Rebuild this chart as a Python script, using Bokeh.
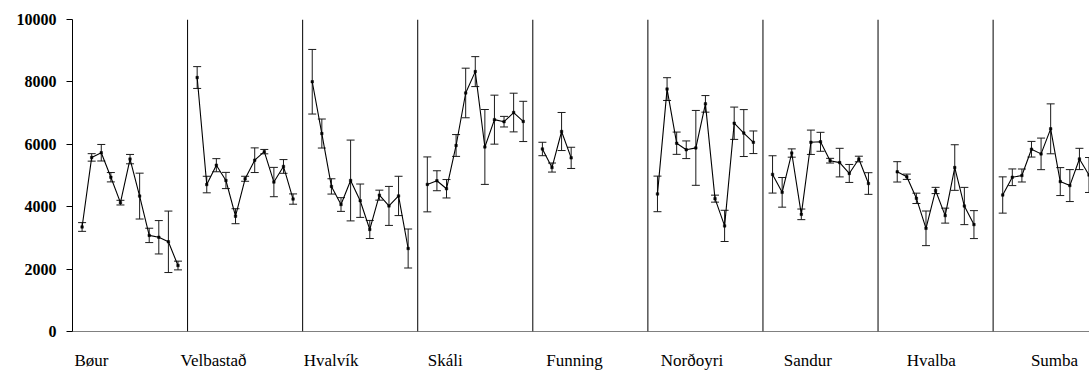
from bokeh.plotting import figure
from bokeh.models import (ColumnDataSource, Range1d, FixedTicker, Span, Whisker, TeeHead)
from bokeh.embed import file_html
from bokeh.resources import INLINE

# ---- data ----
villages = ["Bøur", "Velbastað", "Hvalvík", "Skáli", "Funning",
            "Norðoyri", "Sandur", "Hvalba", "Sumba"]
slots_per_group = 12

# first sample slot within each village block
first_slot = [1, 1, 1, 1, 1, 1, 1, 2, 1]

means = {
    "Bøur":      [3350, 5580, 5730, 4945, 4130, 5525, 4340, 3080, 3020, 2875, 2115],
    "Velbastað": [8140, 4710, 5330, 4840, 3695, 4895, 5490, 5765, 4790, 5290, 4245],
    "Hvalvík":   [8005, 6345, 4650, 4070, 4840, 4192, 3270, 4370, 4025, 4345, 2660],
    "Skáli":     [4715, 4832, 4575, 5962, 7645, 8330, 5915, 6790, 6725, 7018, 6733],
    "Funning":   [5850, 5255, 6410, 5565],
    "Norðoyri":  [4410, 7770, 6035, 5825, 5885, 7296, 4258, 3385, 6675, 6360, 6065],
    "Sandur":    [5035, 4460, 5720, 3755, 6065, 6080, 5475, 5413, 5066, 5528, 4743],
    "Hvalba":    [5117, 4960, 4268, 3307, 4520, 3714, 5255, 4022, 3426],
    "Sumba":     [4375, 4943, 5000, 5842, 5693, 6496, 4805, 4677, 5530, 5016],
}
errors = {
    "Bøur":      [140, 120, 265, 150, 75, 150, 735, 230, 535, 985, 140],
    "Velbastað": [350, 265, 210, 260, 240, 80, 395, 70, 470, 220, 165],
    "Hvalvík":   [1035, 465, 245, 220, 1295, 535, 290, 160, 625, 630, 625],
    "Skáli":     [880, 320, 295, 350, 795, 480, 1200, 785, 170, 620, 645],
    "Funning":   [215, 145, 610, 340],
    "Norðoyri":  [570, 365, 357, 283, 1200, 266, 112, 500, 518, 752, 362],
    "Sandur":    [598, 475, 133, 170, 390, 304, 75, 458, 288, 90, 347],
    "Hvalba":    [326, 85, 166, 555, 100, 240, 731, 597, 448],
    "Sumba":     [581, 267, 208, 251, 506, 800, 448, 512, 341, 560],
}

y_ticks = [0, 2000, 4000, 6000, 8000, 10000]

# layout: label centre offsets inside each block (in slot units)
label_offsets = [1.98, 2.71, 2.96, 2.87, 4.35, 4.6, 4.68, 5.54, 6.4]

FONT = "Liberation Serif"

p = figure(width=1089, height=372, output_backend="svg", toolbar_location=None,
           x_range=Range1d(0, 106.05), y_range=Range1d(0, 10000),
           min_border_left=72, min_border_right=0, min_border_top=19,
           min_border_bottom=40)
p.outline_line_color = None
p.xgrid.grid_line_color = None
p.ygrid.grid_line_color = None
p.background_fill_color = "white"
p.border_fill_color = "white"

# separators
for g in range(1, len(villages)):
    p.add_layout(Span(location=g * slots_per_group, dimension="height",
                      line_color="#000000", line_width=1))

for g, name in enumerate(villages):
    m = means[name]
    e = errors[name]
    xs = [g * slots_per_group + first_slot[g] + i for i in range(len(m))]
    src = ColumnDataSource(dict(x=xs, y=m,
                                upper=[a + b for a, b in zip(m, e)],
                                lower=[a - b for a, b in zip(m, e)]))
    p.add_layout(Whisker(base="x", upper="upper", lower="lower", source=src,
                         dimension="height", line_color="#1a1a1a", line_width=1,
                         upper_head=TeeHead(size=8, line_color="#1a1a1a", line_width=1),
                         lower_head=TeeHead(size=8, line_color="#1a1a1a", line_width=1)))
    p.line("x", "y", source=src, line_color="black", line_width=1.1)
    p.scatter("x", "y", source=src, marker="square", size=2.5,
              fill_color="black", line_color="black", line_width=0.5)

# y axis
p.yaxis.ticker = FixedTicker(ticks=y_ticks)
p.yaxis.minor_tick_line_color = None
p.yaxis.major_tick_out = 6
p.yaxis.major_tick_in = 0
p.yaxis.major_label_standoff = 10
p.yaxis.axis_line_color = "black"
p.yaxis.major_tick_line_color = "black"
p.yaxis.major_label_text_font = FONT
p.yaxis.major_label_text_font_size = "16px"
p.yaxis.major_label_text_font_style = "bold"
p.yaxis.major_label_text_color = "black"

# x axis with village names
label_pos = [g * slots_per_group + label_offsets[g] for g in range(len(villages))]
p.xaxis.ticker = FixedTicker(ticks=label_pos)
p.xaxis.major_label_overrides = {pos: name for pos, name in zip(label_pos, villages)}
p.xaxis.major_tick_line_color = None
p.xaxis.minor_tick_line_color = None
p.xaxis.major_tick_out = 0
p.xaxis.major_tick_in = 0
p.xaxis.major_label_standoff = 19
p.xaxis.axis_line_color = "#808080"
p.xaxis.major_label_text_font = FONT
p.xaxis.major_label_text_font_size = "17px"
p.xaxis.major_label_text_font_style = "normal"
p.xaxis.major_label_text_color = "black"

open("out.html", "w").write(file_html(p, INLINE))
